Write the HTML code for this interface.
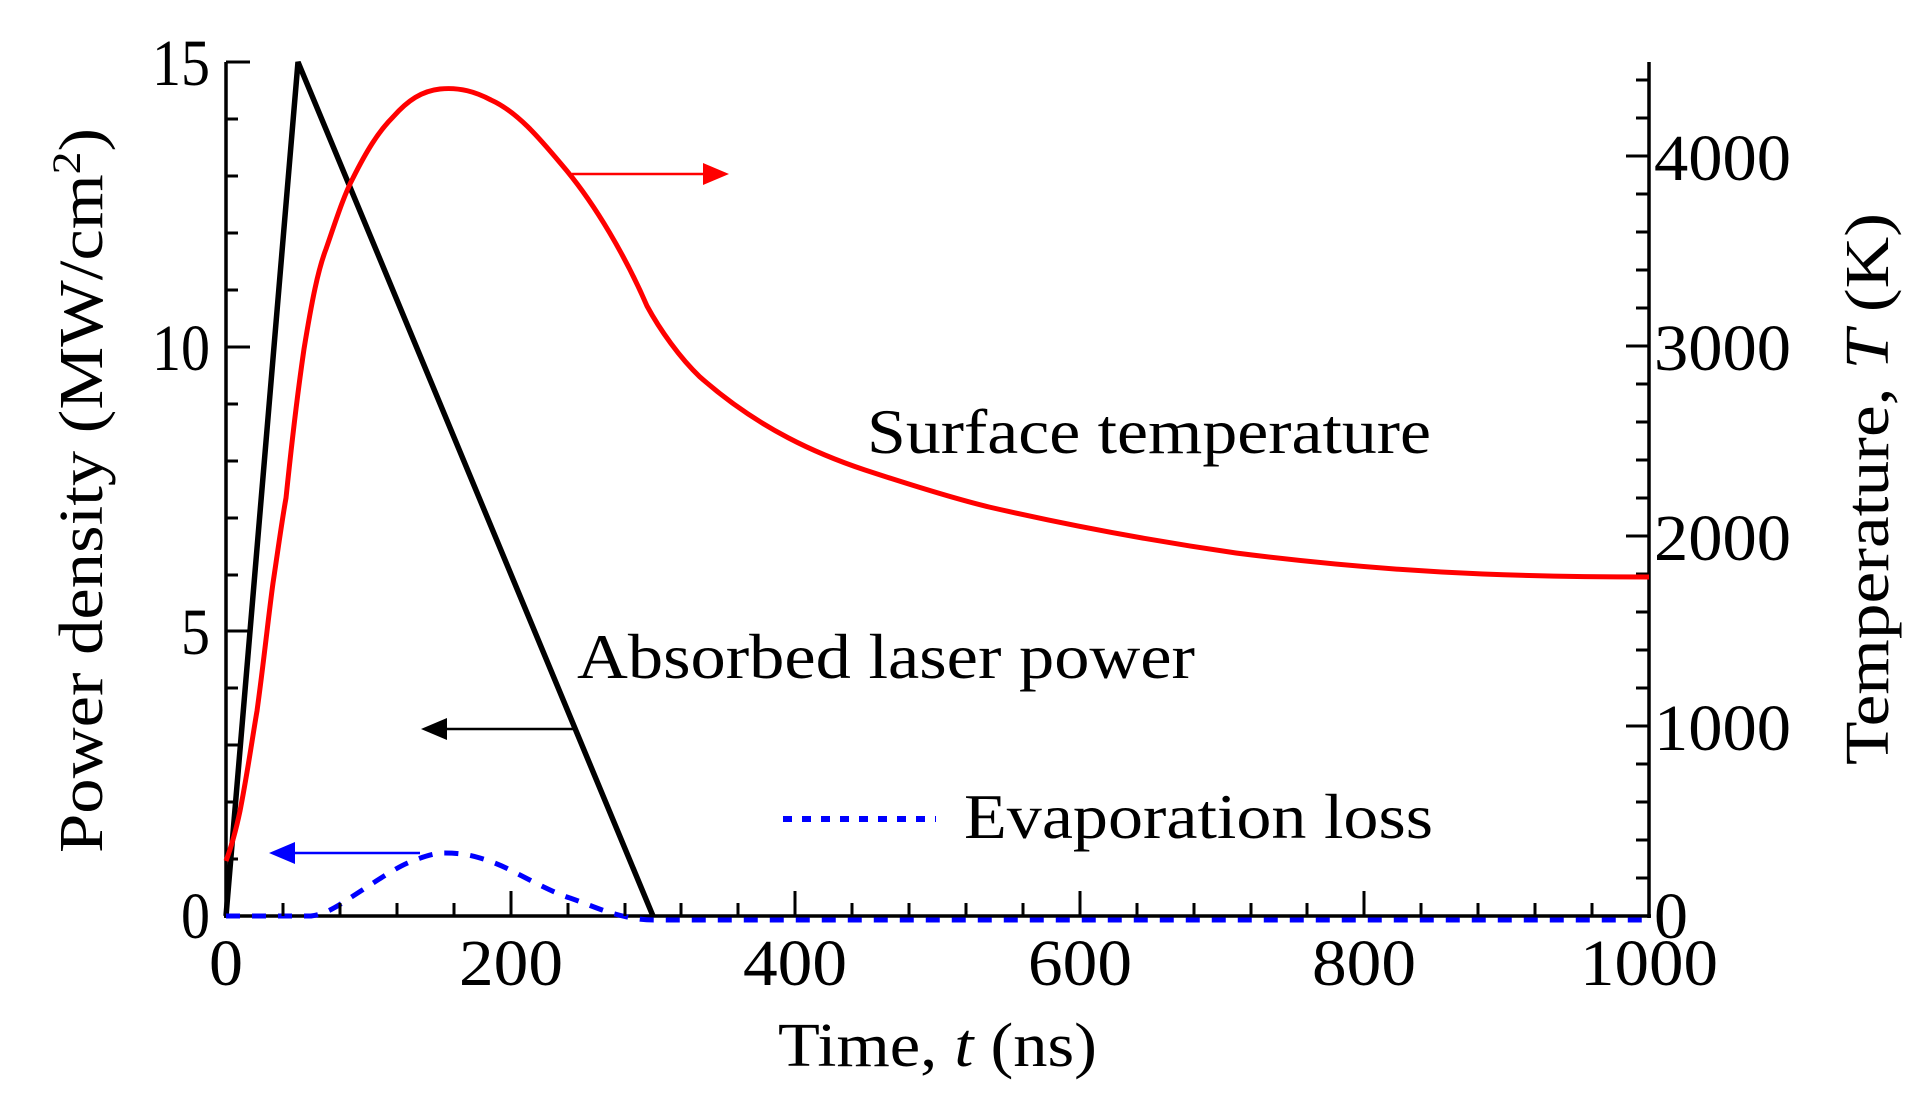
<!DOCTYPE html>
<html><head><meta charset="utf-8"><style>
html,body{margin:0;padding:0;background:#fff}
svg{display:block}
text{font-family:"Liberation Serif",serif;fill:#000}
</style></head><body>
<svg width="1928" height="1108" viewBox="0 0 1928 1108" xmlns="http://www.w3.org/2000/svg">
<defs>
<marker id="ar" markerWidth="10" markerHeight="10" refX="9" refY="5" orient="auto" markerUnits="userSpaceOnUse"></marker>
</defs>
<!-- axes -->
<g stroke="#000" stroke-width="3.5" fill="none">
<line x1="226" y1="62" x2="226" y2="918"/>
<line x1="224" y1="916" x2="1651" y2="916"/>
<line x1="1649" y1="62" x2="1649" y2="918"/>
</g>
<g stroke="#000" stroke-width="3" id="ticks">
<!-- left ticks -->
<line x1="226" y1="62" x2="250" y2="62"/><line x1="226" y1="119" x2="238" y2="119"/><line x1="226" y1="176" x2="238" y2="176"/><line x1="226" y1="233" x2="238" y2="233"/><line x1="226" y1="290" x2="238" y2="290"/>
<line x1="226" y1="347" x2="250" y2="347"/><line x1="226" y1="404" x2="238" y2="404"/><line x1="226" y1="461" x2="238" y2="461"/><line x1="226" y1="518" x2="238" y2="518"/><line x1="226" y1="575" x2="238" y2="575"/>
<line x1="226" y1="631" x2="250" y2="631"/><line x1="226" y1="688" x2="238" y2="688"/><line x1="226" y1="745" x2="238" y2="745"/><line x1="226" y1="802" x2="238" y2="802"/><line x1="226" y1="859" x2="238" y2="859"/>
<!-- right ticks -->
<line x1="1649" y1="878" x2="1636" y2="878"/><line x1="1649" y1="840" x2="1636" y2="840"/><line x1="1649" y1="802" x2="1636" y2="802"/><line x1="1649" y1="764" x2="1636" y2="764"/>
<line x1="1649" y1="726" x2="1626" y2="726"/>
<line x1="1649" y1="688" x2="1636" y2="688"/><line x1="1649" y1="650" x2="1636" y2="650"/><line x1="1649" y1="612" x2="1636" y2="612"/><line x1="1649" y1="574" x2="1636" y2="574"/>
<line x1="1649" y1="536" x2="1626" y2="536"/>
<line x1="1649" y1="498" x2="1636" y2="498"/><line x1="1649" y1="460" x2="1636" y2="460"/><line x1="1649" y1="422" x2="1636" y2="422"/><line x1="1649" y1="384" x2="1636" y2="384"/>
<line x1="1649" y1="346" x2="1626" y2="346"/>
<line x1="1649" y1="308" x2="1636" y2="308"/><line x1="1649" y1="270" x2="1636" y2="270"/><line x1="1649" y1="232" x2="1636" y2="232"/><line x1="1649" y1="194" x2="1636" y2="194"/>
<line x1="1649" y1="156" x2="1626" y2="156"/>
<line x1="1649" y1="118" x2="1636" y2="118"/><line x1="1649" y1="80" x2="1636" y2="80"/>
</g>
<g stroke="#000" stroke-width="3" id="xt"></g>
<!-- tick labels -->
<g font-size="66">
<text x="210" y="85" text-anchor="end" textLength="58" lengthAdjust="spacingAndGlyphs">15</text>
<text x="210" y="370" text-anchor="end" textLength="58" lengthAdjust="spacingAndGlyphs">10</text>
<text x="210" y="654" text-anchor="end" textLength="29" lengthAdjust="spacingAndGlyphs">5</text>
<text x="210" y="938" text-anchor="end" textLength="29" lengthAdjust="spacingAndGlyphs">0</text>
<text x="226" y="985" text-anchor="middle" textLength="34" lengthAdjust="spacingAndGlyphs">0</text>
<text x="511" y="985" text-anchor="middle" textLength="104" lengthAdjust="spacingAndGlyphs">200</text>
<text x="795" y="985" text-anchor="middle" textLength="104" lengthAdjust="spacingAndGlyphs">400</text>
<text x="1080" y="985" text-anchor="middle" textLength="104" lengthAdjust="spacingAndGlyphs">600</text>
<text x="1364" y="985" text-anchor="middle" textLength="104" lengthAdjust="spacingAndGlyphs">800</text>
<text x="1649" y="985" text-anchor="middle" textLength="138" lengthAdjust="spacingAndGlyphs">1000</text>
<text x="1654" y="180" textLength="137" lengthAdjust="spacingAndGlyphs">4000</text>
<text x="1654" y="370" textLength="137" lengthAdjust="spacingAndGlyphs">3000</text>
<text x="1654" y="560" textLength="137" lengthAdjust="spacingAndGlyphs">2000</text>
<text x="1654" y="750" textLength="137" lengthAdjust="spacingAndGlyphs">1000</text>
<text x="1654" y="938" textLength="34" lengthAdjust="spacingAndGlyphs">0</text>
</g>
<!-- axis titles -->
<text x="778" y="1066" font-size="62" textLength="319" lengthAdjust="spacingAndGlyphs">Time, <tspan font-style="italic">t</tspan> (ns)</text>
<text transform="translate(102,853) rotate(-90)" font-size="62" textLength="725" lengthAdjust="spacingAndGlyphs">Power density (MW/cm<tspan baseline-shift="super" font-size="40">2</tspan>)</text>
<text transform="translate(1888,765) rotate(-90)" font-size="62" textLength="552" lengthAdjust="spacingAndGlyphs">Temperature, <tspan font-style="italic">T</tspan> (K)</text>
<!-- annotations -->
<text x="867" y="453" font-size="64" textLength="564" lengthAdjust="spacingAndGlyphs">Surface temperature</text>
<text x="577" y="678" font-size="64" textLength="618" lengthAdjust="spacingAndGlyphs">Absorbed laser power</text>
<text x="964" y="838" font-size="64" textLength="469" lengthAdjust="spacingAndGlyphs">Evaporation loss</text>
<line x1="783" y1="819" x2="936" y2="819" stroke="#00f" stroke-width="6" stroke-dasharray="9,10"/>
<!-- arrows -->
<line x1="572" y1="174" x2="705" y2="174" stroke="#f00" stroke-width="2.5"/>
<polygon points="729,174 703,163 703,185" fill="#f00"/>
<line x1="575" y1="729" x2="445" y2="729" stroke="#000" stroke-width="2.5"/>
<polygon points="421,729 447,718 447,740" fill="#000"/>
<line x1="420" y1="853" x2="293" y2="853" stroke="#00f" stroke-width="2.5"/>
<polygon points="269,853 295,842 295,864" fill="#00f"/>
<!-- series -->
<polyline points="226,916 298,62 653,916" fill="none" stroke="#000" stroke-width="5.5" stroke-linejoin="miter"/>
<path d="M226,861 C232,845 236,830 240,811 C248,770 252,740 257,711 C264,660 268,620 273,583 C278,550 282,520 286,498 C292,440 298,390 304,349 C312,300 318,270 326,249 C336,220 344,195 353,178 C366,152 378,132 393,117 C408,100 422,91 440,89 C460,87 476,92 491,100 C520,113 545,145 567,171 C595,205 625,255 647,306 C660,330 680,358 700,377 C760,430 820,455 865,470 C920,488 960,500 989,507 C1080,528 1160,542 1236,553 C1330,565 1410,571 1483,574 C1560,577 1610,577 1649,577" fill="none" stroke="#f00" stroke-width="5"/>
<path d="M226,916 L311,916 C325,914 335,908 350,898 C375,882 395,868 410,862 C425,856 435,853 445,853 C460,853 470,855 480,858 C500,864 510,870 520,875 C545,888 560,895 570,898 C590,905 600,910 615,914 C630,918 640,920 655,920 L1649,920" fill="none" stroke="#00f" stroke-width="5" stroke-dasharray="14,12"/>
<g stroke="#000" stroke-width="3">
<line x1="283" y1="916" x2="283" y2="903"/><line x1="340" y1="916" x2="340" y2="903"/><line x1="397" y1="916" x2="397" y2="903"/><line x1="454" y1="916" x2="454" y2="903"/><line x1="511" y1="916" x2="511" y2="891"/>
<line x1="568" y1="916" x2="568" y2="903"/><line x1="625" y1="916" x2="625" y2="903"/><line x1="681" y1="916" x2="681" y2="903"/><line x1="738" y1="916" x2="738" y2="903"/><line x1="795" y1="916" x2="795" y2="891"/>
<line x1="852" y1="916" x2="852" y2="903"/><line x1="909" y1="916" x2="909" y2="903"/><line x1="966" y1="916" x2="966" y2="903"/><line x1="1023" y1="916" x2="1023" y2="903"/><line x1="1080" y1="916" x2="1080" y2="891"/>
<line x1="1137" y1="916" x2="1137" y2="903"/><line x1="1194" y1="916" x2="1194" y2="903"/><line x1="1251" y1="916" x2="1251" y2="903"/><line x1="1307" y1="916" x2="1307" y2="903"/><line x1="1364" y1="916" x2="1364" y2="891"/>
<line x1="1421" y1="916" x2="1421" y2="903"/><line x1="1478" y1="916" x2="1478" y2="903"/><line x1="1535" y1="916" x2="1535" y2="903"/><line x1="1592" y1="916" x2="1592" y2="903"/>
</g>
</svg>
</body></html>
